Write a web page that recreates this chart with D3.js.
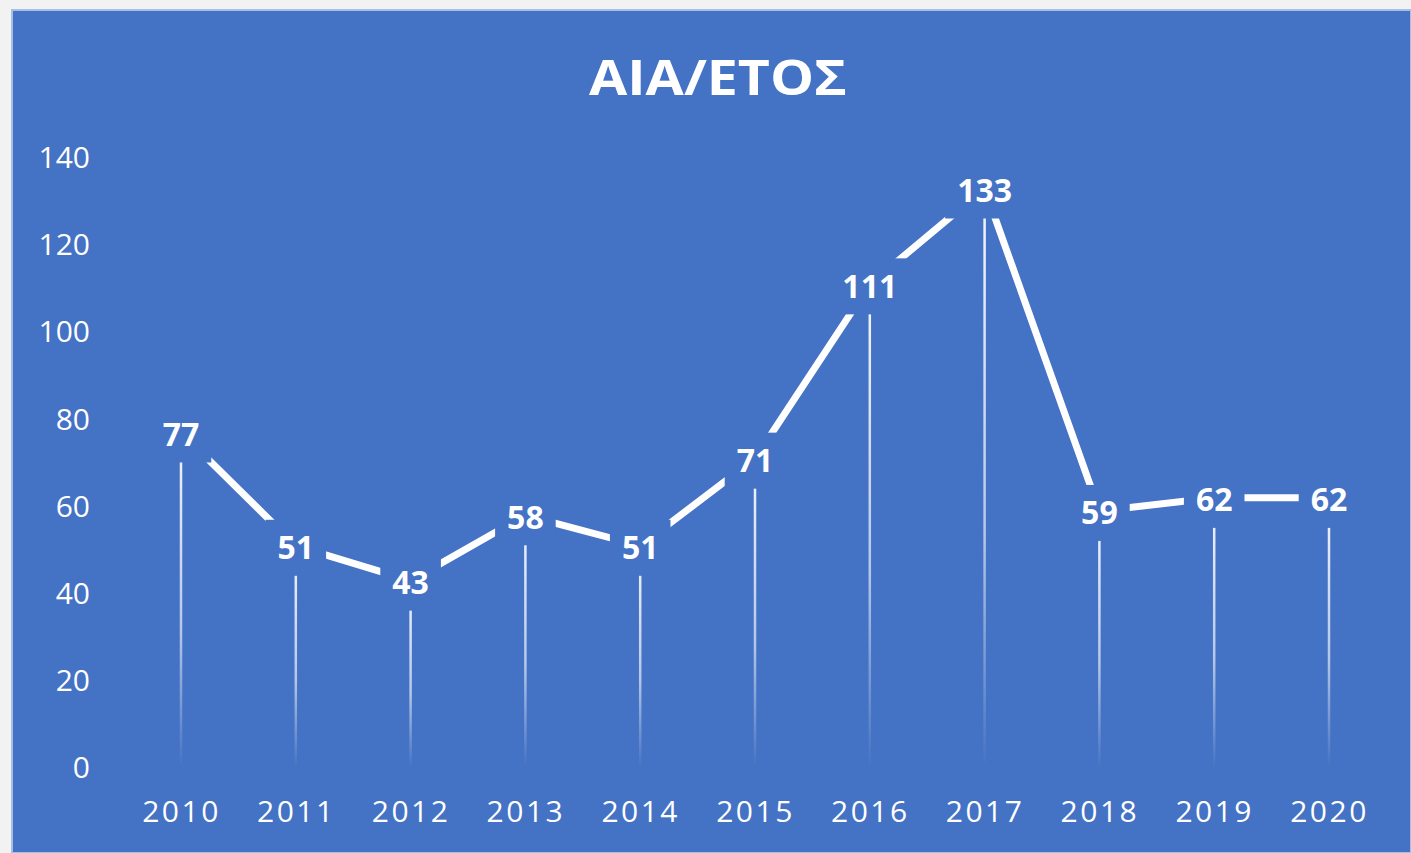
<!DOCTYPE html>
<html>
<head>
<meta charset="utf-8">
<title>ΑΙΑ/ΕΤΟΣ</title>
<style>
body { margin: 0; background: #f2f2f2; }
text { font-family: "Open Sans", sans-serif; fill: #fff; }
.axis path { display: none; }
</style>
</head>
<body>
<script src="https://d3js.org/d3.v7.min.js"></script>
<script>

// data
const years = ["2010", "2011", "2012", "2013", "2014", "2015", "2016", "2017", "2018", "2019", "2020"];
const values = [77, 51, 43, 58, 51, 71, 111, 133, 59, 62, 62];
const yTicks = [0, 20, 40, 60, 80, 100, 120, 140];
const chartTitle = "ΑΙΑ/ΕΤΟΣ";

const width = 1411;
const height = 853;
const bg = "#4472c4";

const svg = d3.select("body").append("svg")
    .attr("width", width)
    .attr("height", height)
    .style("display", "block");

// blue chart area
svg.append("rect")
    .attr("x", 12).attr("y", 10)
    .attr("width", width - 12).attr("height", height - 10)
    .attr("fill", bg)
    .attr("stroke", "#a9bee3")
    .attr("stroke-width", 2);

// fading drop line gradient
const grad = svg.append("defs").append("linearGradient")
    .attr("id", "dropGrad")
    .attr("x1", 0).attr("y1", 0).attr("x2", 0).attr("y2", 1);
grad.append("stop").attr("offset", "0%").attr("stop-color", "#fff").attr("stop-opacity", 0.95);
grad.append("stop").attr("offset", "60%").attr("stop-color", "#fff").attr("stop-opacity", 0.6);
grad.append("stop").attr("offset", "100%").attr("stop-color", "#fff").attr("stop-opacity", 0);

// scales
const x = d3.scalePoint().domain(years).range([181, 1329]);
const y = d3.scaleLinear().domain([0, 140]).range([768, 158]);

const data = years.map((yr, i) => ({ year: yr, value: values[i] }));

// title
svg.append("text")
    .attr("x", 718)
    .attr("y", 95)
    .attr("text-anchor", "middle")
    .attr("textLength", 258)
    .attr("lengthAdjust", "spacingAndGlyphs")
    .style("font-size", "48px")
    .style("font-weight", "bold")
    .text(chartTitle);

// y axis labels
svg.append("g")
    .attr("class", "axis")
    .attr("transform", "translate(90,0)")
    .call(d3.axisLeft(y).tickValues(yTicks).tickSize(0).tickPadding(0))
    .selectAll("text")
    .style("font-size", "30px")
    .style("font-family", "'Open Sans', sans-serif")
    .attr("fill", "#fff");

// x axis labels
svg.append("g")
    .attr("class", "axis")
    .attr("transform", "translate(0,768)")
    .call(d3.axisBottom(x).tickSize(0).tickPadding(33))
    .selectAll("text")
    .style("font-size", "30px")
    .style("letter-spacing", "2.5px")
    .style("font-family", "'Open Sans', sans-serif")
    .attr("fill", "#fff");

// drop lines
svg.selectAll(".drop")
    .data(data)
  .enter().append("rect")
    .attr("class", "drop")
    .attr("x", d => x(d.year) - 1.25)
    .attr("y", d => y(d.value))
    .attr("width", 2.5)
    .attr("height", d => y(0) - y(d.value))
    .attr("fill", "url(#dropGrad)");

// series line
svg.append("path")
    .datum(data)
    .attr("fill", "none")
    .attr("stroke", "#fff")
    .attr("stroke-width", 7)
    .attr("d", d3.line().x(d => x(d.year)).y(d => y(d.value)));

// data labels with background boxes that cut the line
const lab = svg.selectAll(".lab")
    .data(data)
  .enter().append("g")
    .attr("class", "lab")
    .attr("transform", d => "translate(" + x(d.year) + "," + (y(d.value) + 2) + ")");

const boxes = lab.append("rect").attr("fill", bg);

const labText = lab.append("text")
    .attr("text-anchor", "middle")
    .attr("dy", "0.36em")
    .style("font-size", "32px")
    .style("font-weight", "bold")
    .text(d => d.value);

labText.each(function(d) { d.w = this.getComputedTextLength(); });

boxes
    .attr("x", d => -d.w / 2 - 12)
    .attr("y", -28)
    .attr("width", d => d.w + 24)
    .attr("height", 56);

</script>
</body>
</html>
